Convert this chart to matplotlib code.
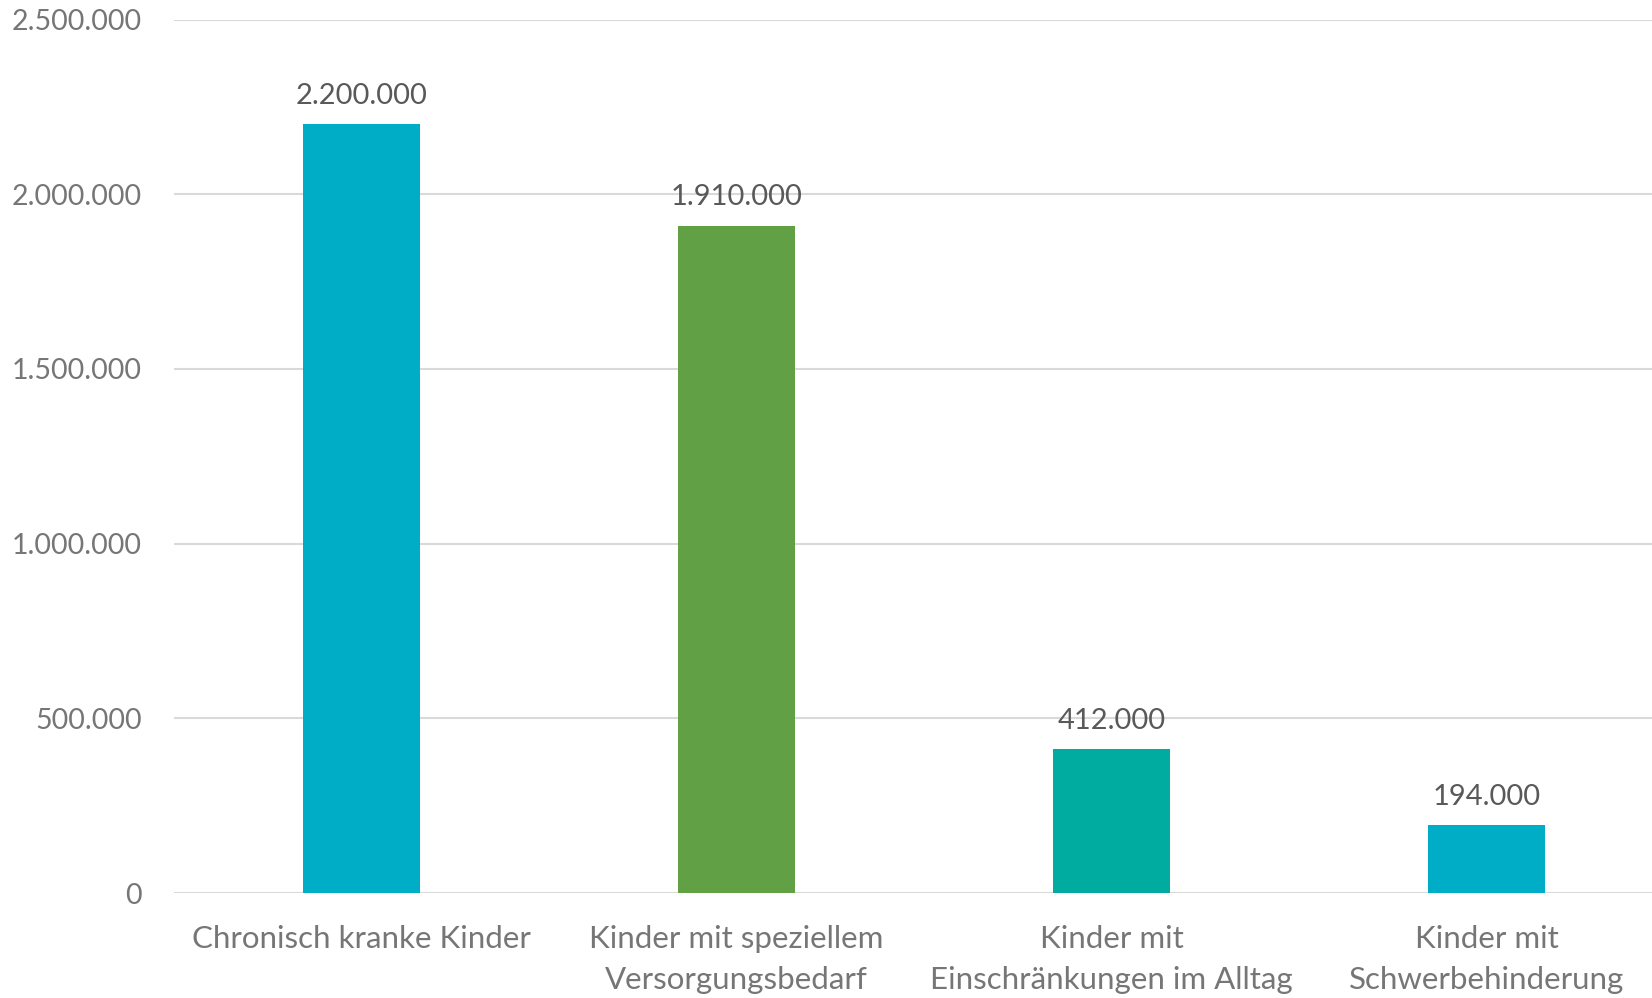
import matplotlib
matplotlib.use("Agg")
import matplotlib.pyplot as plt
from matplotlib.ticker import FuncFormatter

categories = ["Chronisch kranke Kinder", "Kinder mit speziellem\nVersorgungsbedarf",
              "Kinder mit\nEinschränkungen im Alltag", "Kinder mit\nSchwerbehinderung"]
values = [2200000, 1910000, 412000, 194000]
colors = ["#00ADC6", "#62A045", "#00AC9F", "#00ADC6"]

def de(v, pos=None):
    return f"{int(v):,}".replace(",", ".")

plt.rcParams['font.family'] = ['Lato', 'DejaVu Sans']
fig = plt.figure(figsize=(16.52, 9.98), dpi=100)
ax = fig.add_axes([174/1652, 105/998, 1500/1652, 873.5/998])
x = range(len(categories))
ax.bar(x, values, width=0.31, color=colors, zorder=3)
ax.set_xlim(-0.5, 3.5)
ax.set_ylim(0, 2500000)
ax.set_yticks([0, 500000, 1000000, 1500000, 2000000, 2500000])
ax.yaxis.set_major_formatter(FuncFormatter(de))
ax.set_xticks(list(x))
ax.set_xticklabels(categories, linespacing=1.55)
ax.tick_params(axis='y', length=0, pad=23, labelsize=20.5, labelcolor="#767676")
ax.tick_params(axis='x', length=0, pad=23, labelsize=22.5, labelcolor="#767676")
ax.grid(axis='y', color="#D9D9D9", linewidth=1.5, zorder=0)
for s in ax.spines.values():
    s.set_visible(False)
for xi, v in zip(x, values):
    ax.annotate(de(v), (xi, v), xytext=(0, 11), textcoords="offset points",
                ha="center", va="bottom", fontsize=21, color="#595959")
fig.savefig("out.png", dpi=100)
